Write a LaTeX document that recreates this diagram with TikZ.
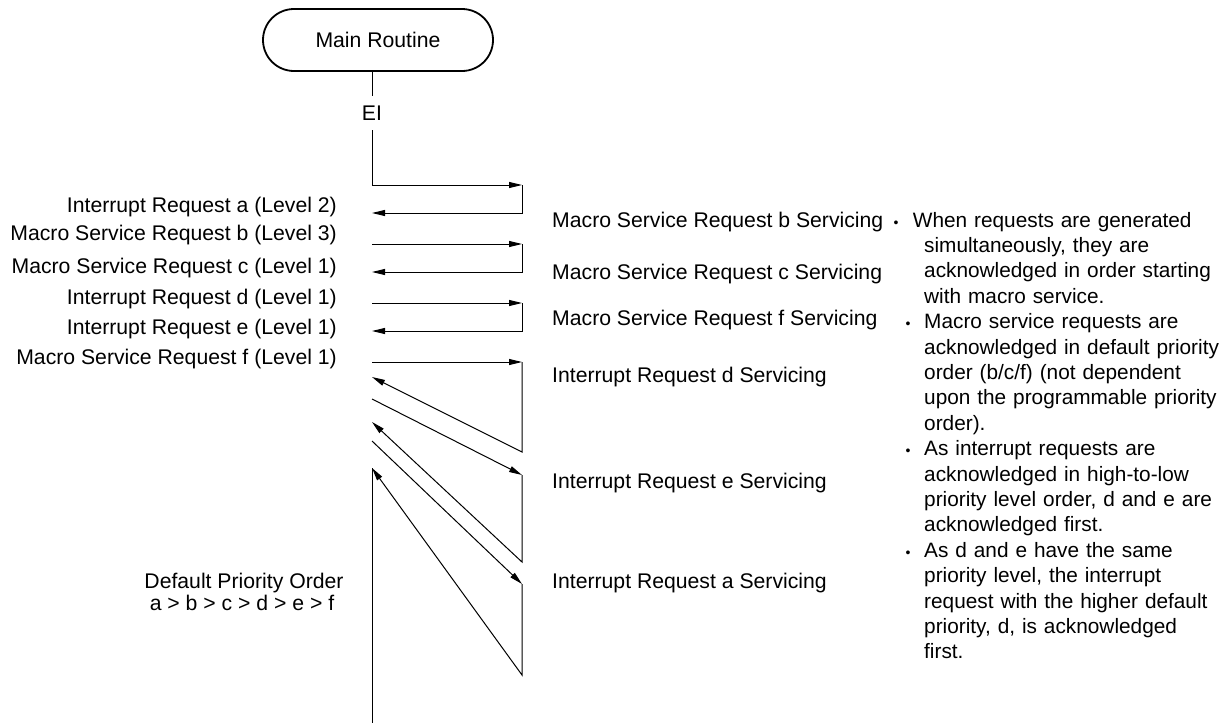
\documentclass[tikz,border=0pt]{standalone}
\usepackage{fontspec}
\setmainfont{Liberation Sans}
\usetikzlibrary{arrows.meta}
\begin{document}
\tikzset{
  lbl/.style={font=\fontsize{21.2}{25}\selectfont, inner sep=0pt},
  conn/.style={line width=1pt},
  arr/.style={conn, -{Triangle[length=13pt,width=6pt]}},
  note/.style={font=\fontsize{20.8}{25.4}\selectfont, inner sep=0pt, text width=400pt, align=left, anchor=base west},
  bul/.style={font=\fontsize{14}{14}\selectfont, inner sep=0pt, anchor=base},
  boxstyle/.style={draw, line width=1.8pt, rounded corners=31pt, minimum width=230pt, minimum height=62pt, lbl}
}
\begin{tikzpicture}[x=1pt,y=-1pt]
\useasboundingbox (0,0) rectangle (1221,723);
% main routine
\node[boxstyle] (main) at (378,40) {Main Routine};
\node[lbl, inner sep=10pt] (EI) at (372,113) {EI};
\draw[conn] (main.south -| EI.north) -- (EI.north);
% coordinates
\coordinate (Lo1) at (372,185); \coordinate (Ri1) at (522,185); \coordinate (Rb1) at (522,213); \coordinate (Li1) at (372,213);
\coordinate (Lo2) at (372,244); \coordinate (Ri2) at (522,244); \coordinate (Rb2) at (522,272); \coordinate (Li2) at (372,272);
\coordinate (Lo3) at (372,303); \coordinate (Ri3) at (522,303); \coordinate (Rb3) at (522,331); \coordinate (Li3) at (372,331);
\coordinate (Lo4) at (372,362); \coordinate (Ri4) at (522,362); \coordinate (Rb4) at (522,452); \coordinate (Li4) at (372,377);
\coordinate (Lo5) at (372,399); \coordinate (Ri5) at (522,475); \coordinate (Rb5) at (522,562); \coordinate (Li5) at (372,422);
\coordinate (Lo6) at (372,441); \coordinate (Ri6) at (522,584); \coordinate (Rb6) at (522,675); \coordinate (Li6) at (372,468);
\coordinate (End) at (372,723);
% connectors
\draw[arr] (EI.south) |- (Ri1);
\draw[arr] (Ri1) -- (Rb1) -- (Li1);
\draw[arr] (Lo2) -- (Ri2);
\draw[arr] (Ri2) -- (Rb2) -- (Li2);
\draw[arr] (Lo3) -- (Ri3);
\draw[arr] (Ri3) -- (Rb3) -- (Li3);
\draw[arr] (Lo4) -- (Ri4);
\draw[arr] (Ri4) -- (Rb4) -- (Li4);
\draw[arr] (Lo5) -- (Ri5);
\draw[arr] (Ri5) -- (Rb5) -- (Li5);
\draw[arr] (Lo6) -- (Ri6);
\draw[arr] (Ri6) -- (Rb6) -- (Li6);
\draw[conn] (Li6) -- (End);
% left labels
\node[lbl, anchor=base east] (ra) at (337,212) {Interrupt Request a (Level 2)};
\node[lbl, anchor=base east] (rb) at (337,240) {Macro Service Request b (Level 3)};
\node[lbl, anchor=base east] (rc) at (337,273) {Macro Service Request c (Level 1)};
\node[lbl, anchor=base east] (rd) at (337,304) {Interrupt Request d (Level 1)};
\node[lbl, anchor=base east] (re) at (337,334) {Interrupt Request e (Level 1)};
\node[lbl, anchor=base east] (rf) at (337,364) {Macro Service Request f (Level 1)};
% right labels
\node[lbl, anchor=base west] (sb) at (552,227) {Macro Service Request b Servicing};
\node[lbl, anchor=base west] (sc) at (552,279) {Macro Service Request c Servicing};
\node[lbl, anchor=base west] (sf) at (552,325) {Macro Service Request f Servicing};
\node[lbl, anchor=base west] (sd) at (552,382) {Interrupt Request d Servicing};
\node[lbl, anchor=base west] (se) at (552,488) {Interrupt Request e Servicing};
\node[lbl, anchor=base west] (sa) at (552,588) {Interrupt Request a Servicing};
% default priority
\node[lbl, anchor=base] (dp1) at (244,588) {Default Priority Order};
\node[lbl, anchor=base] (dp2) at (242,610) {a > b > c > d > e > f};
% notes
\node[bul] (b1) at (896,227) {•};
\node[note] (n1) at (924,227) {\hspace*{-11.3pt}When requests are generated\\simultaneously, they are\\acknowledged in order starting\\with macro service.};
\node[bul] (b2) at (908,328.6) {•};
\node[note] (n2) at (924,328.6) {Macro service requests are\\acknowledged in default priority\\order (b/c/f) (not dependent\\upon the programmable priority\\order).};
\node[bul] (b3) at (908,455.6) {•};
\node[note] (n3) at (924,455.6) {As interrupt requests are\\acknowledged in high-to-low\\priority level order, d and e are\\acknowledged first.};
\node[bul] (b4) at (908,557.2) {•};
\node[note] (n4) at (924,557.2) {As d and e have the same\\priority level, the interrupt\\request with the higher default\\priority, d, is acknowledged\\first.};
\end{tikzpicture}
\end{document}
